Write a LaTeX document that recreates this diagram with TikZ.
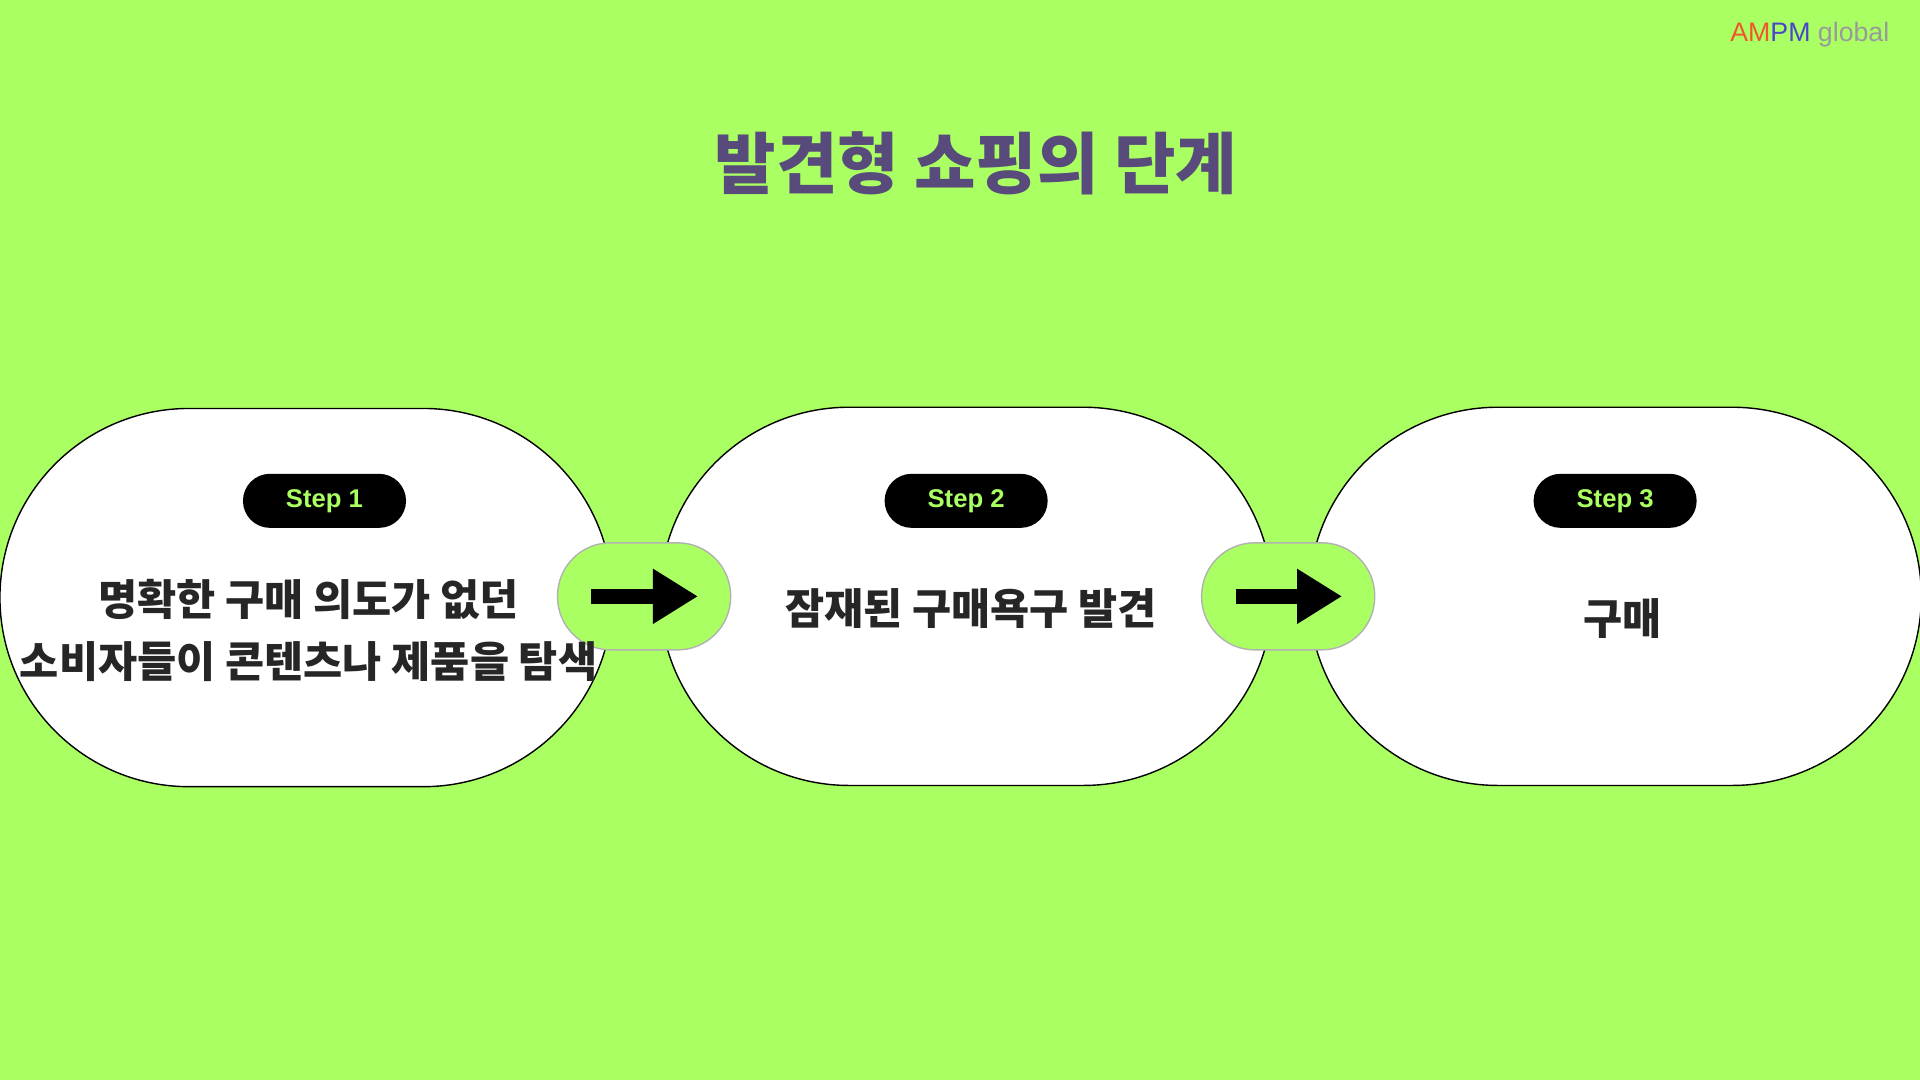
\documentclass[tikz,border=0pt]{standalone}
\usepackage{fontspec}
\setmainfont{Liberation Sans}
\newfontfamily\kr{Noto Sans CJK KR}
\usetikzlibrary{arrows.meta}
\definecolor{bg}{HTML}{AAFF62}
\definecolor{titlepurple}{HTML}{594A7C}
\definecolor{logored}{HTML}{F2552C}
\definecolor{logoblue}{HTML}{4A46C8}
\definecolor{loggrey}{HTML}{9A9A9A}
\begin{document}
\begin{tikzpicture}[x=0.012245cm, y=-0.012245cm, >=Stealth,
    pill/.style={draw=black, fill=white, minimum width=6.12cm, minimum height=3.78cm, rounded corners=1.89cm},
    link/.style={draw=black!30, fill=bg, minimum width=1.73cm, minimum height=1.07cm, rounded corners=0.53cm},
    badge/.style={fill=black, text=bg, font=\bfseries\fontsize{7.3}{9}\selectfont, minimum width=1.63cm, minimum height=0.54cm, rounded corners=0.27cm},
    body/.style={font=\kr\bfseries\fontsize{12.1}{17.7}\selectfont, align=center, text=black!85},
    bigarrow/.style={-{Triangle[length=0.45cm, width=0.52cm]}, line width=0.15cm}]

        % Background and bounding box
        \fill[bg] (0,0) rectangle (1568,882);
        \useasboundingbox (0,0) rectangle (1568,882);

        % Logo and title
        \node (logo) at (1478,28) {\fontsize{7.6}{9}\selectfont\textcolor{logored}{AM}\textcolor{logoblue}{PM} \textcolor{loggrey}{global}};
        \node[font=\kr\bfseries\fontsize{19}{24}\selectfont, text=titlepurple] (title) at (797,133) {발견형 쇼핑의 단계};

        % Stage pills
        \node[pill] (p1) at (250,488) {};
        \node[pill] (p2) at (789,487) {};
        \node[pill] (p3) at (1319,487) {};

        % Connecting pills with arrows
        \node[link] (l1) at (526,487) {};
        \node[link] (l2) at (1052,487) {};
        \coordinate (a1s) at (483,487);
        \coordinate (a1e) at (570,487);
        \coordinate (a2s) at (1009,487);
        \coordinate (a2e) at (1096,487);
        \draw[bigarrow] (a1s) -- (a1e);
        \draw[bigarrow] (a2s) -- (a2e);

        % Step badges
        \node[badge] (s1) at (265,409) {Step 1};
        \node[badge] (s2) at (789,409) {Step 2};
        \node[badge] (s3) at (1319,409) {Step 3};

        % Stage texts
        \node[body] (t1) at (252,515) {명확한 구매 의도가 없던\\소비자들이 콘텐츠나 제품을 탐색};
        \node[body] (t2) at (793,497) {잠재된 구매욕구 발견};
        \node[body] (t3) at (1325,505) {구매};

      \end{tikzpicture}
\end{document}
